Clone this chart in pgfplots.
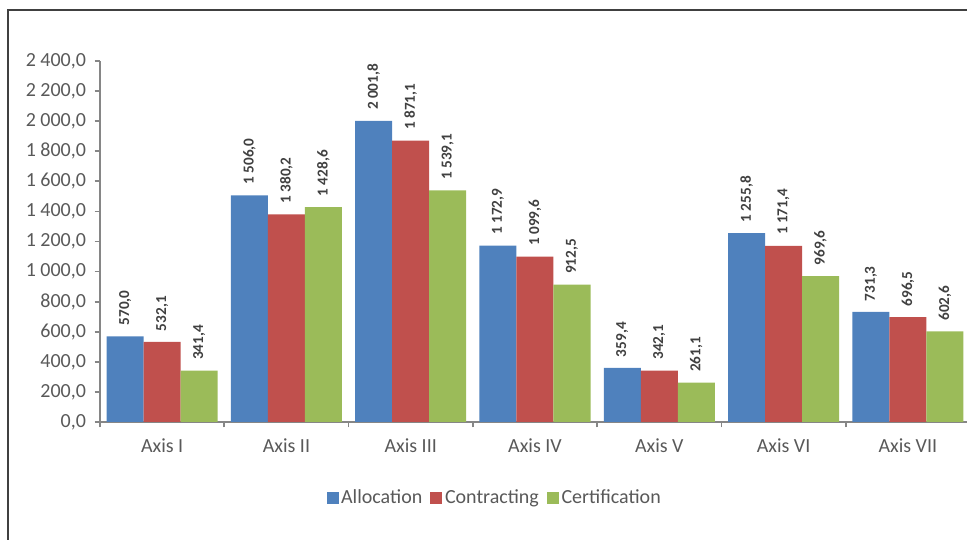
\documentclass[border=0pt]{standalone}
\usepackage{fontspec}
\setmainfont{Carlito}
\usepackage{pgfplots}
\pgfplotsset{compat=1.18}
\definecolor{cBlue}{HTML}{4F81BD}
\definecolor{cRed}{HTML}{C0504D}
\definecolor{cGreen}{HTML}{9BBB59}
\definecolor{axisgray}{HTML}{868686}
\definecolor{ticktext}{HTML}{595959}
\definecolor{labeltext}{HTML}{404040}
\begin{document}
\begin{tikzpicture}
\useasboundingbox (0,0) rectangle (725.25pt,404.25pt);
\clip (0,0) rectangle (725.25pt,404.25pt);
\draw[color=labeltext, line width=1.4pt] (6pt,-20pt) -- (6pt,396.5pt) -- (760pt,396.5pt);
\begin{axis}[
  at={(75pt,87.75pt)}, anchor=south west,
  scale only axis,
  width=652.5pt, height=270.75pt,
  xmin=-0.5, xmax=6.5,
  ymin=0, ymax=2400,
  axis x line*=bottom, axis y line*=left,
  axis line style={color=axisgray, line width=1.3pt},
  ybar=0pt, bar width=27.75pt,
  xtick={0,...,6},
  xticklabels={Axis I, Axis II, Axis III, Axis IV, Axis V, Axis VI, Axis VII},
  major x tick style={draw=none},
  minor xtick={-0.5,0.5,1.5,2.5,3.5,4.5,5.5,6.5},
  minor x tick style={color=axisgray, line width=1.3pt},
  minor tick length=4pt,
  ytick={0,200,...,2400},
  yticklabels={{0,0},{200,0},{400,0},{600,0},{800,0},{1 000,0},{1 200,0},{1 400,0},{1 600,0},{1 800,0},{2 000,0},{2 200,0},{2 400,0}},
  major y tick style={color=axisgray, line width=1.3pt},
  major tick length=4pt,
  tick align=outside,
  ticklabel style={font=\fontsize{15}{18}\selectfont, text=ticktext},
  xticklabel style={yshift=-5pt},
  yticklabel style={xshift=-3pt},
  point meta=explicit symbolic,
  nodes near coords,
  nodes near coords style={rotate=90, anchor=west, font=\fontsize{11.4}{13}\selectfont\bfseries, text=labeltext, inner sep=0pt},
  every node near coord/.append style={shift={(8pt,0pt)}},
  legend style={at={(0.454,-0.2105)}, anchor=center, draw=none, font=\fontsize{15}{18}\selectfont, text=ticktext, legend columns=3, /tikz/every even column/.append style={column sep=4pt}},
  legend image code/.code={\fill[#1] (0pt,-4.5pt) rectangle (9pt,4.5pt);},
]
\addplot[fill=cBlue, draw=none] coordinates {(0,570.0) [570,0] (1,1506.0) [1 506,0] (2,2001.8) [2 001,8] (3,1172.9) [1 172,9] (4,359.4) [359,4] (5,1255.8) [1 255,8] (6,731.3) [731,3]};
\addplot[fill=cRed, draw=none] coordinates {(0,532.1) [532,1] (1,1380.2) [1 380,2] (2,1871.1) [1 871,1] (3,1099.6) [1 099,6] (4,342.1) [342,1] (5,1171.4) [1 171,4] (6,696.5) [696,5]};
\addplot[fill=cGreen, draw=none] coordinates {(0,341.4) [341,4] (1,1428.6) [1 428,6] (2,1539.1) [1 539,1] (3,912.5) [912,5] (4,261.1) [261,1] (5,969.6) [969,6] (6,602.6) [602,6]};
\legend{Allocation, Contracting, Certification}
\end{axis}
\end{tikzpicture}
\end{document}
